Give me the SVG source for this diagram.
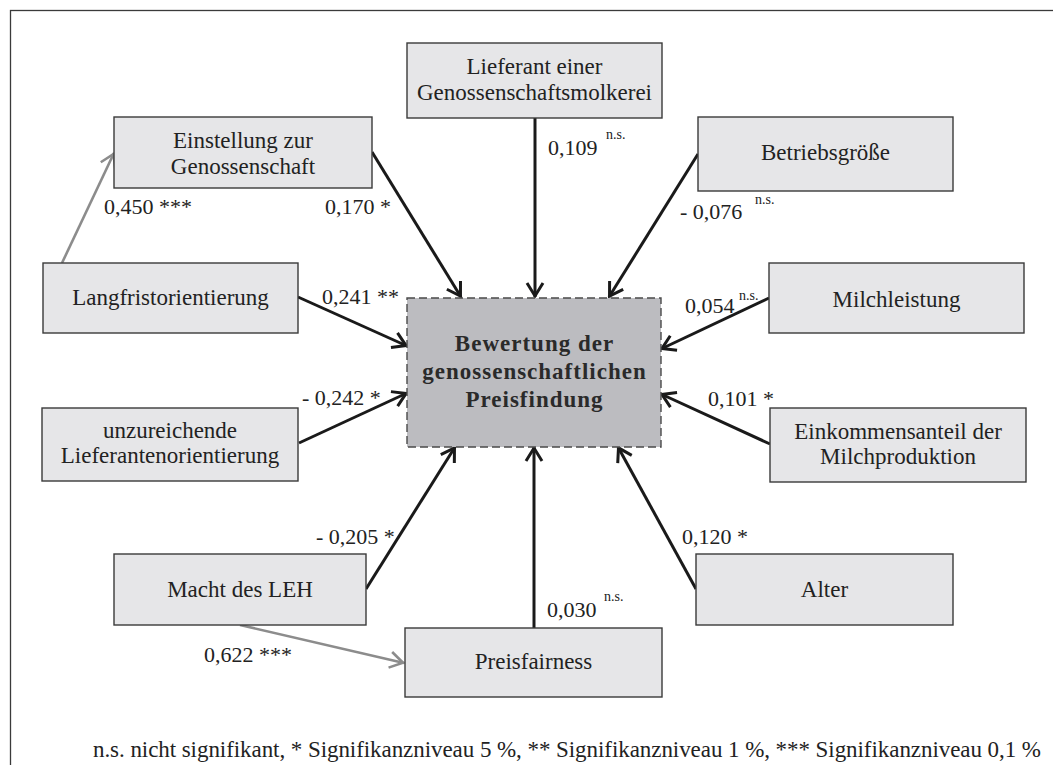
<svg xmlns="http://www.w3.org/2000/svg" width="1053" height="765" viewBox="0 0 1053 765">
<style>
.box{fill:#e6e6e8;stroke:#3a3a3a;stroke-width:1.4}
.main{fill:#bcbcc0;stroke:#4a4a4a;stroke-width:1.4;stroke-dasharray:8 4}
.t{font-family:"Liberation Serif","Times New Roman",serif;font-size:23px;fill:#222;text-anchor:middle}
.b{font-family:"Liberation Serif","Times New Roman",serif;font-size:23px;font-weight:bold;fill:#2a2a2a;text-anchor:middle;letter-spacing:1px}
.l{font-family:"Liberation Serif","Times New Roman",serif;font-size:22px;fill:#222}
.f{font-family:"Liberation Serif","Times New Roman",serif;font-size:23px;fill:#222}
.s{font-family:"Liberation Serif","Times New Roman",serif;font-size:14px;fill:#222}
.c{fill:none;stroke:#1a1a1a;stroke-width:3}
.g{fill:none;stroke:#8c8c8c;stroke-width:2.6}
</style>
<defs>
<marker id="ah" viewBox="0 0 20 20" refX="17" refY="10" markerWidth="20" markerHeight="20" markerUnits="userSpaceOnUse" orient="auto">
<path d="M3,2 L16,10 L3,18" fill="none" stroke="#1a1a1a" stroke-width="3"/>
</marker>
<marker id="ahg" viewBox="0 0 20 20" refX="17" refY="10" markerWidth="20" markerHeight="20" markerUnits="userSpaceOnUse" orient="auto">
<path d="M3,2 L16,10 L3,18" fill="none" stroke="#8c8c8c" stroke-width="2.6"/>
</marker>
</defs>
<rect x="0" y="0" width="1053" height="765" fill="#ffffff"/>
<rect x="10.5" y="10.5" width="1100" height="800" fill="none" stroke="#3a3a3a" stroke-width="1.3"/>

<g id="connectors">
<line class="c" x1="372" y1="152" x2="461" y2="297" marker-end="url(#ah)"/>
<line class="c" x1="535" y1="118" x2="535" y2="297" marker-end="url(#ah)"/>
<line class="c" x1="698" y1="154" x2="609" y2="297" marker-end="url(#ah)"/>
<line class="c" x1="298" y1="297" x2="407" y2="346" marker-end="url(#ah)"/>
<line class="c" x1="299" y1="443" x2="407" y2="393" marker-end="url(#ah)"/>
<line class="c" x1="769" y1="298" x2="661" y2="349" marker-end="url(#ah)"/>
<line class="c" x1="770" y1="444" x2="661" y2="394" marker-end="url(#ah)"/>
<line class="c" x1="366" y1="589" x2="455" y2="447" marker-end="url(#ah)"/>
<line class="c" x1="534" y1="628" x2="534" y2="447" stroke-width="4.5" marker-end="url(#ah)"/>
<line class="c" x1="696" y1="589" x2="618" y2="447" marker-end="url(#ah)"/>
<line class="g" x1="62" y1="263" x2="114" y2="153" marker-end="url(#ahg)"/>
<line class="g" x1="240" y1="625" x2="404" y2="663" marker-end="url(#ahg)"/>
</g>

<g id="labels">
<text class="l" x="104" y="214">0,450 ***</text>
<text class="l" x="325" y="214">0,170 *</text>
<text class="l" x="548" y="155">0,109</text><text class="s" x="606" y="139">n.s.</text>
<text class="l" x="680" y="219">- 0,076</text><text class="s" x="755" y="204">n.s.</text>
<text class="l" x="322" y="304">0,241 **</text>
<text class="l" x="302" y="405">- 0,242 *</text>
<text class="l" x="685" y="313">0,054</text><text class="s" x="739" y="300">n.s.</text>
<text class="l" x="708" y="406">0,101 *</text>
<text class="l" x="316" y="544">- 0,205 *</text>
<text class="l" x="204" y="662">0,622 ***</text>
<text class="l" x="547" y="617">0,030</text><text class="s" x="604" y="601">n.s.</text>
<text class="l" x="682" y="544">0,120 *</text>
</g>

<g id="n-einstellung">
<rect class="box" x="114" y="117" width="258" height="71"/>
<text class="t" x="243" y="147.5">Einstellung zur</text>
<text class="t" x="243" y="173.5">Genossenschaft</text>
</g>
<g id="n-lieferant">
<rect class="box" x="407" y="43" width="255" height="75"/>
<text class="t" x="534.5" y="73.5">Lieferant einer</text>
<text class="t" x="534.5" y="99.5">Genossenschaftsmolkerei</text>
</g>
<g id="n-betriebsgroesse">
<rect class="box" x="698" y="117" width="255" height="74"/>
<text class="t" x="825.5" y="160">Betriebsgröße</text>
</g>
<g id="n-langfrist">
<rect class="box" x="43" y="263" width="255" height="70"/>
<text class="t" x="170.5" y="305">Langfristorientierung</text>
</g>
<g id="n-unzureichend">
<rect class="box" x="42" y="408" width="256" height="73"/>
<text class="t" x="170" y="437.5">unzureichende</text>
<text class="t" x="170" y="463">Lieferantenorientierung</text>
</g>
<g id="n-milchleistung">
<rect class="box" x="769" y="263" width="255" height="70"/>
<text class="t" x="896.5" y="307">Milchleistung</text>
</g>
<g id="n-einkommensanteil">
<rect class="box" x="770" y="408" width="256" height="74"/>
<text class="t" x="898" y="438.5">Einkommensanteil der</text>
<text class="t" x="898" y="463.5">Milchproduktion</text>
</g>
<g id="n-macht">
<rect class="box" x="114" y="554" width="252" height="71"/>
<text class="t" x="240" y="596.5">Macht des LEH</text>
</g>
<g id="n-preisfairness">
<rect class="box" x="405" y="628" width="257" height="69"/>
<text class="t" x="533.5" y="669">Preisfairness</text>
</g>
<g id="n-alter">
<rect class="box" x="696" y="554" width="257" height="71"/>
<text class="t" x="824.5" y="596.5">Alter</text>
</g>
<g id="n-bewertung">
<rect class="main" x="407" y="298" width="254" height="149"/>
<text class="b" x="534.5" y="351">Bewertung der</text>
<text class="b" x="534.5" y="378.5">genossenschaftlichen</text>
<text class="b" x="534.5" y="406.5">Preisfindung</text>
</g>

<g id="footer">
<text class="f" x="93" y="757" textLength="948" lengthAdjust="spacing">n.s. nicht signifikant, * Signifikanzniveau 5 %, ** Signifikanzniveau 1 %, *** Signifikanzniveau 0,1 %</text>
</g>
</svg>
